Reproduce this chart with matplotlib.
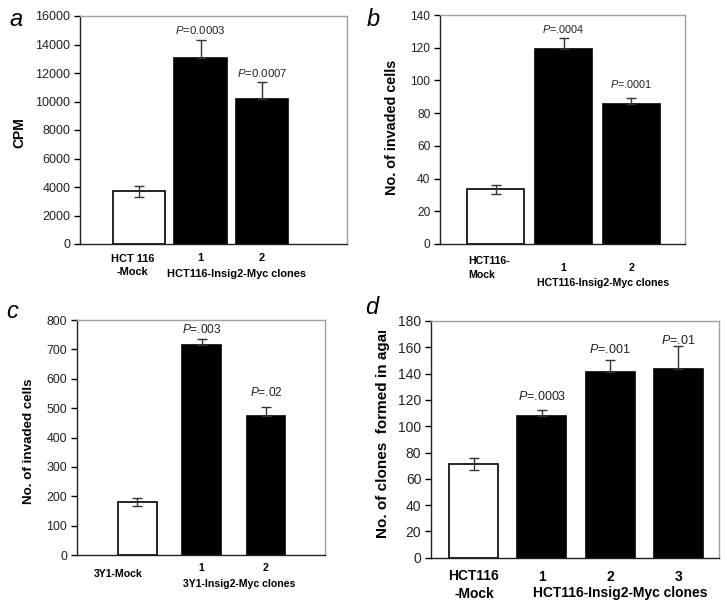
import numpy as np
import matplotlib
matplotlib.use("Agg")
import matplotlib.pyplot as plt
from matplotlib.transforms import Bbox, TransformedBbox

plt.rcParams['font.family'] = ['Liberation Sans', 'DejaVu Sans']
plt.rcParams['mathtext.fontset'] = 'custom'
plt.rcParams['mathtext.it'] = 'Liberation Sans:italic'
plt.rcParams['mathtext.rm'] = 'Liberation Sans'

# ---- data ----
a_mock = "HCT 116\n-Mock"
a_clones = ["1", "2"]
a_group = "HCT116-Insig2-Myc clones"
a_values = [3700, 13050, 10200]
a_errors = [380, 1280, 1200]
a_pvals = ["", "=0.0003", "=0.0007"]
a_ylabel = "CPM"
a_yticks = np.arange(0, 16001, 2000)

b_mock = "HCT116-\nMock"
b_clones = ["1", "2"]
b_group = "HCT116-Insig2-Myc clones"
b_values = [33.5, 119.5, 85.3]
b_errors = [2.7, 6.2, 4.0]
b_pvals = ["", "=.0004", "=.0001"]
b_ylabel = "No. of invaded cells"
b_yticks = np.arange(0, 141, 20)

c_mock = "3Y1-Mock"
c_clones = ["1", "2"]
c_group = "3Y1-Insig2-Myc clones"
c_values = [180, 716, 474]
c_errors = [14, 20, 31]
c_pvals = ["", "=.003", "=.02"]
c_ylabel = "No. of invaded cells"
c_yticks = np.arange(0, 801, 100)

d_mock = "HCT116\n-Mock"
d_clones = ["1", "2", "3"]
d_group = "HCT116-Insig2-Myc clones"
d_values = [71.3, 107.6, 141.2, 143.4]
d_errors = [4.3, 4.6, 8.9, 17.5]
d_pvals = ["", "=.0003", "=.001", "=.01"]
d_ylabel = "No. of clones  formed in agar"
d_yticks = np.arange(0, 181, 20)

W, H = 727, 606
fig = plt.figure(figsize=(W / 100, H / 100), dpi=100)


def px_axes(left, right, top, bottom):
    return fig.add_axes([left / W, 1 - bottom / H, (right - left) / W, (bottom - top) / H])


def panel(ax, values, errors, pvals, mock, clones, group, ylabel, yticks,
          xlim, width, tick_fs, lab_fs, xl_fs, p_fs, p_off,
          ylab_x, ylab_y, mock_dx, mock_ha, mock_y, num_y, group_y, group_dx):
    x = np.arange(len(values))
    colors = ['white'] + ['black'] * (len(values) - 1)
    ax.bar(x, values, width=width, color=colors, edgecolor='black', linewidth=1.2, zorder=2)
    for i in range(len(values)):
        lo = errors[i] if i == 0 else 0
        ax.errorbar(x[i], values[i], yerr=[[lo], [errors[i]]], fmt='none',
                    ecolor='#333333', elinewidth=1, capsize=3.5, capthick=1, zorder=3)
        if pvals[i]:
            ax.annotate("$P$" + pvals[i], (x[i], values[i] + errors[i]),
                        xytext=(0, p_off[i]), textcoords='offset points',
                        ha='center', va='center', fontsize=p_fs, color='#222222')
    ax.set_xlim(*xlim)
    ax.set_ylim(yticks[0], yticks[-1])
    ax.set_yticks(yticks)
    ax.set_xticks([])
    ax.tick_params(axis='y', direction='out', length=4, width=1, labelsize=tick_fs,
                   labelcolor='#222222', pad=3)
    for s in ['top', 'right']:
        ax.spines[s].set_color('#a0a0a0')
        ax.spines[s].set_linewidth(1)
    for s in ['left', 'bottom']:
        ax.spines[s].set_color('#222222')
        ax.spines[s].set_linewidth(1)
    lab = ax.set_ylabel(ylabel, fontsize=lab_fs, fontweight='bold')
    ax.yaxis.set_label_coords(ylab_x, ylab_y)
    tr = ax.get_xaxis_transform()
    ax.text(x[0] + mock_dx, mock_y, mock, transform=tr, ha=mock_ha, va='center',
            fontsize=xl_fs, fontweight='bold', linespacing=1.4, multialignment=mock_ha)
    for i, c in enumerate(clones):
        ax.text(x[i + 1], num_y, c, transform=tr, ha='center', va='center',
                fontsize=xl_fs, fontweight='bold')
    ax.text(np.mean(x[1:]) + group_dx, group_y, group, transform=tr, ha='center',
            va='center', fontsize=xl_fs, fontweight='bold')
    return lab


ax_a = px_axes(80, 347, 16, 244)
panel(ax_a, a_values, a_errors, a_pvals, a_mock, a_clones, a_group, a_ylabel, a_yticks,
      (-0.96, 3.38), 0.85, 9, 10, 7.9, 8.2, [0, 7, 6],
      -0.199, 0.49, -0.1, 'center', -0.096, -0.061, -0.132, 0.09)

ax_b = px_axes(440, 685, 15, 244)
panel(ax_b, b_values, b_errors, b_pvals, b_mock, b_clones, b_group, b_ylabel, b_yticks,
      (-0.82, 2.79), 0.85, 8.6, 10.4, 7.6, 7.8, [0, 7, 10],
      -0.167, 0.51, -0.41, 'left', -0.105, -0.105, -0.170, 0.08)

ax_c = px_axes(77, 325, 320, 555)
panel(ax_c, c_values, c_errors, c_pvals, c_mock, c_clones, c_group, c_ylabel, c_yticks,
      (-0.94, 2.92), 0.6, 8.9, 9.6, 7.6, 8.6, [0, 7, 10],
      -0.169, 0.485, -0.3, 'center', -0.081, -0.055, -0.123, 0.08)

ax_d = px_axes(431, 719, 321, 557.7)
lab_d = panel(ax_d, d_values, d_errors, d_pvals, d_mock, d_clones, d_group, d_ylabel, d_yticks,
              (-0.63, 3.6), 0.72, 10, 11, 10, 9, [0, 10, 8, 4],
              -0.142, 0.531, 0, 'center', -0.116, -0.082, -0.150, 0.15)
# the label is cut at the top like in the original
clip = TransformedBbox(Bbox([[0, 0], [0.7, 1 - 331 / H]]), fig.transFigure)
lab_d.set_clip_box(clip)
lab_d.set_clip_on(True)

for ch, (px, py) in zip("abcd", [(16, 20), (373, 20), (12, 312), (372, 307)]):
    fig.text(px / W, 1 - py / H, ch, fontsize=17, fontstyle='italic', ha='center', va='center')

fig.savefig("out.png", dpi=100)
